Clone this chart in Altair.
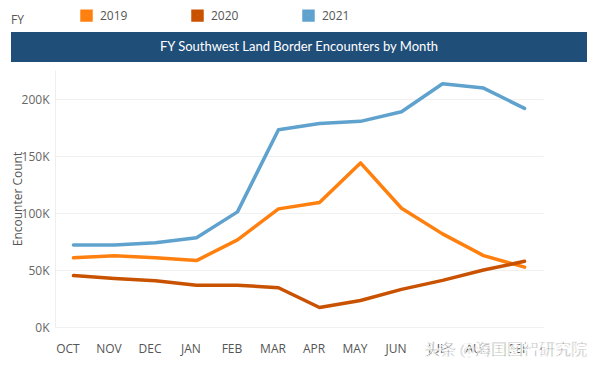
import altair as alt
import pandas as pd

months = ["OCT", "NOV", "DEC", "JAN", "FEB", "MAR", "APR", "MAY", "JUN", "JUL", "AUG", "SEP"]
fy2019 = [60743, 62469, 60782, 58317, 76545, 103731, 109415, 144116, 104311, 81777, 62707, 52546]
fy2020 = [45139, 42643, 40565, 36585, 36687, 34460, 17106, 23237, 33049, 40929, 50014, 57674]
fy2021 = [71929, 72113, 73994, 78414, 101099, 173277, 178795, 180597, 189034, 213593, 209840, 192001]
years = ["2019", "2020", "2021"]
colors = ["#FF800E", "#C85200", "#5FA2CE"]
y_ticks = [0, 50000, 100000, 150000, 200000]
title_text = "FY Southwest Land Border Encounters by Month"
watermark = "头条 @海国图智研究院"

rows = []
for yr, vals in zip(years, [fy2019, fy2020, fy2021]):
    for m, v in zip(months, vals):
        rows.append({"Month": m, "FY": yr, "Count": v})
df = pd.DataFrame(rows)

FONT = "Segoe UI, Open Sans, Noto Sans, sans-serif"

lines = alt.Chart(df).mark_line(strokeWidth=3.5, strokeJoin="round", strokeCap="round").encode(
    x=alt.X("Month:O", sort=months, scale=alt.Scale(type="point", padding=0.45),
            axis=alt.Axis(title=None, labelAngle=0, domain=False, ticks=False, labelPadding=16,
                          labelOffset=-6, labelFontSize=12, labelColor="#555555", labelFont=FONT,
                          grid=False)),
    y=alt.Y("Count:Q", scale=alt.Scale(domain=[0, 225700], nice=False),
            axis=alt.Axis(title="Encounter Count", values=y_ticks,
                          labelExpr="datum.value/1000 + 'K'", domain=True, domainColor="#EEEEEE",
                          domainWidth=1, ticks=False,
                          labelPadding=6, labelFontSize=12, labelColor="#666666", labelFont=FONT,
                          titleFont=FONT, titleFontSize=12, titleFontWeight="normal",
                          titleColor="#555555", titleX=-31, titleY=128.5,
                          gridColor="#F0F0F0", gridWidth=1)),
    color=alt.Color("FY:N", scale=alt.Scale(domain=years, range=colors),
                    legend=alt.Legend(orient="none", legendX=-44, legendY=-61, direction="horizontal",
                                      title="FY", titleOrient="left", titleFont=FONT,
                                      titleFontSize=12, titleFontWeight="normal", titleColor="#555555",
                                      titlePadding=56, symbolType="square", symbolSize=42,
                                      symbolStrokeWidth=6, symbolOpacity=1,
                                      labelFont=FONT, labelFontSize=12, labelColor="#555555",
                                      columnPadding=54, labelOffset=7)),
)

title_df = pd.DataFrame({"t": [title_text]})
title_box = alt.Chart(title_df).mark_rect(color="#1F4E79", clip=False).encode(
    x=alt.value(-44), x2=alt.value(532), y=alt.value(-38), y2=alt.value(-8)
)
title_txt = alt.Chart(title_df).mark_text(color="white", fontSize=13, font="Lato", align="center",
                                          baseline="middle").encode(
    text="t:N", x=alt.value(244), y=alt.value(-23)
)

wm_df = pd.DataFrame({"t": [watermark]})
wm = alt.Chart(wm_df).mark_text(color="#333333", fontSize=16, font="Noto Sans CJK SC", align="right",
                                baseline="middle", stroke="white", strokeWidth=0.8).encode(
    text="t:N", x=alt.value(532), y=alt.value(280)
)

bottom_line = alt.Chart(title_df).mark_rule(color="#D0D0D0", strokeWidth=1.5).encode(
    x=alt.value(-48), x2=alt.value(535), y=alt.value(297)
)

chart = alt.layer(title_box, title_txt, lines, wm, bottom_line).properties(
    width=488, height=257,
    background="white",
    autosize=alt.AutoSizeParams(type="none"),
    padding={"left": 47, "top": 62, "right": 49, "bottom": 35},
).configure_view(stroke=None)

chart.save("out.html", embed_options={"renderer": "svg", "actions": False})
